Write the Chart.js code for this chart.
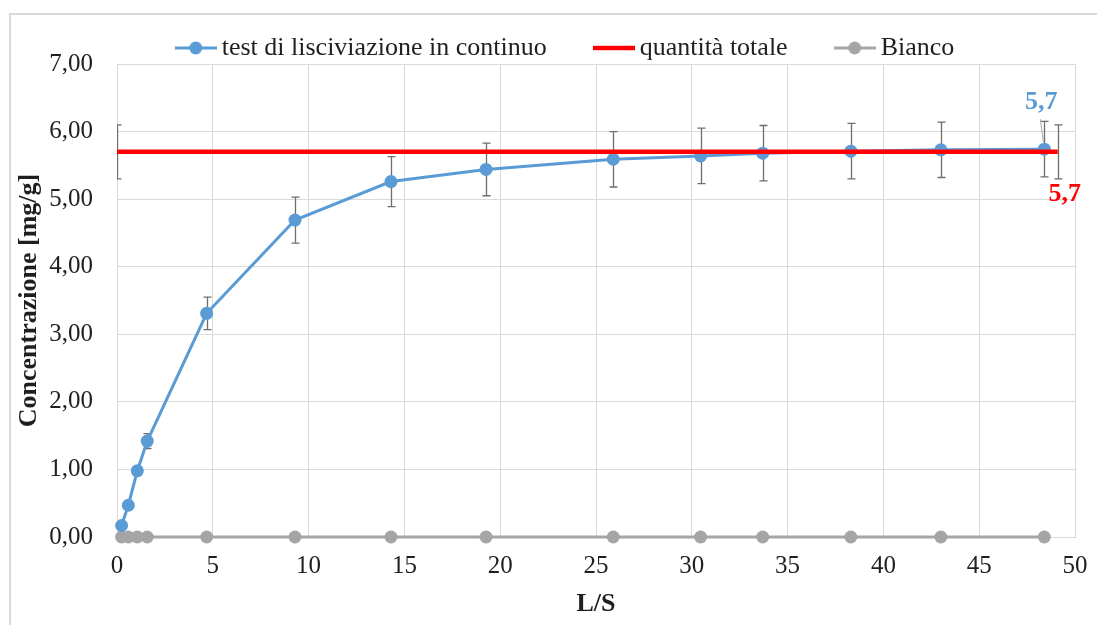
<!DOCTYPE html>
<html>
<head>
<meta charset="utf-8">
<script src="https://cdn.jsdelivr.net/npm/chart.js@4.4.1/dist/chart.umd.min.js"></script>
<style>
  html, body { margin: 0; padding: 0; background: #ffffff; }
  #wrap { width: 1097px; height: 625px; }
</style>
</head>
<body>
<div id="wrap"><canvas id="chart" width="1097" height="625"></canvas></div>
<script>
// Rapporto liquido/solido (L/S) dei prelievi
const lsValues = [0.24, 0.59, 1.06, 1.58, 4.68, 9.29, 14.3, 19.26, 25.9, 30.46, 33.7, 38.3, 43.0, 48.4];
// Concentrazione cumulata del test in continuo [mg/g] e relativa deviazione
const concentration = [0.17, 0.47, 0.98, 1.42, 3.31, 4.69, 5.26, 5.44, 5.59, 5.64, 5.68, 5.71, 5.73, 5.74];
const concentrationErr = [0.02, 0.02, 0.04, 0.11, 0.24, 0.34, 0.37, 0.39, 0.41, 0.41, 0.41, 0.41, 0.41, 0.41];
// Quantità totale (retta orizzontale) con deviazione
const totalLs = [0, 49.1];
const totalQuantity = [5.7, 5.7];
const totalErr = [0.4, 0.4];
// Bianco
const blankValues = [0, 0, 0, 0, 0, 0, 0, 0, 0, 0, 0, 0, 0, 0];
// Tacche degli assi
const xTicks = [0, 5, 10, 15, 20, 25, 30, 35, 40, 45, 50];
const yTicks = [0, 1, 2, 3, 4, 5, 6, 7];

const BLUE = '#5b9bd5';
const RED = '#ff0000';
const GRAY = '#a5a5a5';
const SERIF = '"Liberation Serif", "Times New Roman", serif';
const TEXT = '#1f1f1f';

const toPoints = (xs, ys) => xs.map((x, i) => ({ x: x, y: ys[i] }));
const fmt = (v, d) => v.toFixed(d).replace('.', ',');

// Simbolo della legenda: segmento con eventuale marcatore circolare
function legendIcon(color, lineW, withDot) {
  const c = document.createElement('canvas');
  c.width = 42; c.height = 14;
  const g = c.getContext('2d');
  g.strokeStyle = color;
  g.lineWidth = lineW;
  g.beginPath(); g.moveTo(0, 7); g.lineTo(42, 7); g.stroke();
  if (withDot) {
    g.fillStyle = color;
    g.beginPath(); g.arc(21, 7, 6.5, 0, Math.PI * 2); g.fill();
  }
  return c;
}
const icons = [legendIcon(BLUE, 3, true), legendIcon(RED, 4.5, false), legendIcon(GRAY, 3, true)];

// Cornice e sfondo
const framePlugin = {
  id: 'frame',
  beforeDraw(chart) {
    const ctx = chart.ctx;
    ctx.save();
    ctx.fillStyle = '#ffffff';
    ctx.fillRect(0, 0, chart.width, chart.height);
    ctx.strokeStyle = '#d9d9d9';
    ctx.lineWidth = 2;
    ctx.strokeRect(10, 14, chart.width + 50, chart.height + 50);
    ctx.restore();
  }
};

// Posizionamento orizzontale della legenda
const legendShift = {
  id: 'legendShift',
  afterLayout(chart) {
    chart.legend.left += 26;
    chart.legend.right += 26;
  }
};

// Barre di errore verticali, disegnate sotto linee e marcatori
const errorBarPlugin = {
  id: 'errorBars',
  beforeDatasetsDraw(chart) {
    const ctx = chart.ctx;
    const xs = chart.scales.x, ys = chart.scales.y;
    const area = chart.chartArea;
    ctx.save();
    ctx.beginPath();
    ctx.rect(area.left, area.top - 10, area.right - area.left + 1, area.bottom - area.top + 20);
    ctx.clip();
    ctx.strokeStyle = '#6e6e6e';
    ctx.lineWidth = 1.3;
    chart.data.datasets.forEach(ds => {
      if (!ds.errorBars) return;
      ds.data.forEach((p, i) => {
        const e = ds.errorBars[i];
        const px = Math.round(xs.getPixelForValue(p.x)) + 0.5;
        const top = ys.getPixelForValue(p.y + e);
        const bot = ys.getPixelForValue(p.y - e);
        ctx.beginPath();
        ctx.moveTo(px, top); ctx.lineTo(px, bot);
        ctx.moveTo(px - 4, top); ctx.lineTo(px + 4, top);
        ctx.moveTo(px - 4, bot); ctx.lineTo(px + 4, bot);
        ctx.stroke();
      });
    });
    ctx.restore();
  }
};

// Etichette del valore finale delle due serie
const endLabelPlugin = {
  id: 'endLabels',
  afterDatasetsDraw(chart) {
    const ctx = chart.ctx;
    const xs = chart.scales.x, ys = chart.scales.y;
    const lastBlue = concentration.length - 1;
    const bx = xs.getPixelForValue(lsValues[lastBlue]);
    const by = ys.getPixelForValue(concentration[lastBlue]);
    const lastRed = totalQuantity.length - 1;
    const rx = xs.getPixelForValue(totalLs[lastRed]);
    const ry = ys.getPixelForValue(totalQuantity[lastRed]);
    ctx.save();
    ctx.strokeStyle = '#a6a6a6';
    ctx.lineWidth = 1;
    ctx.beginPath();
    ctx.moveTo(bx - 4, by - 30);
    ctx.lineTo(bx - 1, by - 7);
    ctx.stroke();
    ctx.font = 'bold 26px ' + SERIF;
    ctx.textAlign = 'center';
    ctx.textBaseline = 'middle';
    ctx.fillStyle = BLUE;
    ctx.fillText(fmt(concentration[lastBlue], 1), bx - 3, by - 47);
    ctx.fillStyle = RED;
    ctx.fillText(fmt(totalQuantity[lastRed], 1), rx + 7, ry + 42);
    ctx.restore();
  }
};

new Chart(document.getElementById('chart'), {
  type: 'line',
  data: {
    datasets: [
      {
        label: 'test di lisciviazione in continuo',
        data: toPoints(lsValues, concentration),
        errorBars: concentrationErr,
        borderColor: BLUE,
        backgroundColor: BLUE,
        borderWidth: 3,
        pointRadius: 6.5,
        pointBorderWidth: 0,
        pointBackgroundColor: BLUE,
        tension: 0,
        clip: false,
        order: 1
      },
      {
        label: 'quantità totale',
        data: toPoints(totalLs, totalQuantity),
        errorBars: totalErr,
        borderColor: RED,
        backgroundColor: RED,
        borderWidth: 4.5,
        pointRadius: 0,
        tension: 0,
        order: 0
      },
      {
        label: 'Bianco',
        data: toPoints(lsValues, blankValues),
        borderColor: GRAY,
        backgroundColor: GRAY,
        borderWidth: 3,
        pointRadius: 6.5,
        pointBorderWidth: 0,
        pointBackgroundColor: GRAY,
        tension: 0,
        clip: false,
        order: 2
      }
    ]
  },
  options: {
    responsive: false,
    animation: false,
    devicePixelRatio: 1,
    layout: { padding: { top: -19, left: 10, right: 22, bottom: 0 } },
    plugins: {
      tooltip: { enabled: false },
      legend: {
        position: 'top',
        align: 'center',
        maxHeight: 83,
        labels: {
          usePointStyle: true,
          pointStyleWidth: 26,
          padding: 54,
          color: TEXT,
          font: { family: SERIF, size: 26 },
          sort: (a, b) => a.datasetIndex - b.datasetIndex,
          generateLabels(chart) {
            const items = Chart.defaults.plugins.legend.labels.generateLabels(chart);
            items.forEach(it => { it.pointStyle = icons[it.datasetIndex]; });
            return items;
          }
        }
      }
    },
    scales: {
      x: {
        type: 'linear',
        min: 0,
        max: 50,
        afterBuildTicks(s) { s.ticks = xTicks.map(v => ({ value: v })); },
        afterFit(s) { s.height = 88; s.paddingLeft = 0; s.paddingRight = 0; },
        grid: { color: '#d9d9d9', lineWidth: 1, drawTicks: false },
        border: { color: '#d9d9d9' },
        ticks: {
          padding: 14,
          color: TEXT,
          font: { family: SERIF, size: 25 },
          maxRotation: 0,
          callback: v => String(v)
        },
        title: {
          display: true,
          text: 'L/S',
          color: TEXT,
          font: { family: SERIF, size: 26, weight: 'bold' },
          padding: { top: 0, bottom: 5 }
        }
      },
      y: {
        type: 'linear',
        min: 0,
        max: 7,
        afterBuildTicks(s) { s.ticks = yTicks.map(v => ({ value: v })); },
        afterFit(s) { s.width = 107; s.paddingTop = 0; s.paddingBottom = 0; },
        grid: { color: '#d9d9d9', lineWidth: 1, drawTicks: false },
        border: { color: '#d9d9d9' },
        ticks: {
          padding: 24,
          color: TEXT,
          font: { family: SERIF, size: 25 },
          callback: v => fmt(v, 2)
        },
        title: {
          display: true,
          text: 'Concentrazione [mg/g]',
          color: TEXT,
          font: { family: SERIF, size: 26, weight: 'bold' },
          padding: { top: 4, bottom: 0 }
        }
      }
    }
  },
  plugins: [framePlugin, legendShift, errorBarPlugin, endLabelPlugin]
});
</script>
</body>
</html>
